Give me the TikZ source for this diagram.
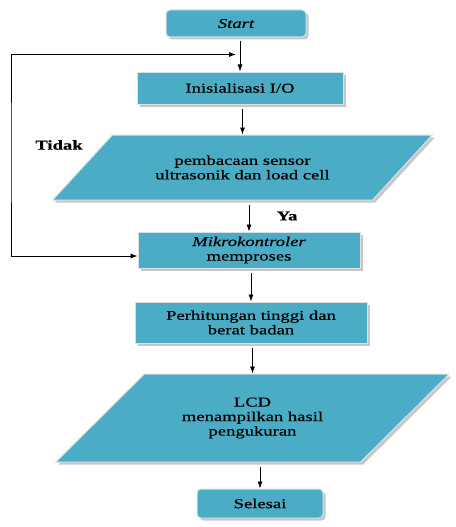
\documentclass[tikz,border=0pt]{standalone}
\usepackage{fontspec}
\setmainfont[FakeStretch=1.38,FakeBold=0.5]{Liberation Serif}
\usetikzlibrary{arrows.meta,positioning,shapes.geometric,shadows,calc}
\definecolor{flowcol}{RGB}{75,172,198}
\definecolor{rimcol}{RGB}{214,226,231}

\begin{document}
\begin{tikzpicture}[
  font=\fontsize{13.5}{14.5}\selectfont,
  box/.style={draw=rimcol,line width=1pt,fill=flowcol,align=center,inner sep=2pt,
    drop shadow={shadow xshift=2.5pt,shadow yshift=-2.5pt,fill=black!22,opacity=1}},
  term/.style={box,rounded corners=4pt},
  proc/.style={box},
  io/.style={box,trapezium,trapezium stretches=true},
  lbl/.style={font=\fontsize{13.5}{14.5}\selectfont\bfseries},
  arr/.style={-{Latex[length=7pt,width=5pt]},line width=0.8pt,shorten <=4pt},
  back/.style={{Latex[length=7pt,width=5pt]}-{Latex[length=7pt,width=5pt]},line width=0.8pt,shorten <=4pt}]

\useasboundingbox (0,0) rectangle (455pt,-527pt);

% main column
\node[term,minimum width=140pt,minimum height=27pt] (start) at (236pt,-23.5pt) {\itshape Start};
\node[proc,below=34pt of start,xshift=4pt,minimum width=206pt,minimum height=32pt] (init) {Inisialisasi I/O};
\node[io,below=30pt of init,xshift=2.5pt,trapezium left angle=34.4,trapezium right angle=145.6,
  minimum width=381pt,minimum height=65pt] (sensor) {pembacaan sensor\\ultrasonik dan load cell};
\node[proc,below=31pt of sensor,xshift=6.5pt,minimum width=222pt,minimum height=36pt] (mikro)
  {\textit{Mikrokontroler}\\memproses};
\node[proc,below=33pt of mikro,xshift=2pt,minimum width=232pt,minimum height=41pt] (hitung)
  {Perhitungan tinggi dan\\berat badan};
\node[io,below=30pt of hitung,xshift=1.5pt,trapezium left angle=37,trapezium right angle=143,
  minimum width=395pt,minimum height=88pt] (lcd) {LCD\\menampilkan hasil\\pengukuran};
\node[term,below=26pt of lcd,xshift=7.5pt,minimum width=126pt,minimum height=29pt] (selesai) {Selesai};

% labels
\node[lbl] (tidak) at (59pt,-145pt) {Tidak};

% arrows
\draw[arr] (init.north |- start.south) -- (init.north);
\draw[arr] (sensor.north |- init.south) -- (sensor.north);
\draw[arr] (mikro.north |- sensor.south) -- node[midway,right=24pt,lbl] (ya) {Ya} (mikro.north);
\draw[arr] (hitung.north |- mikro.south) -- (hitung.north);
\draw[arr] (lcd.north |- hitung.south) -- (lcd.north);
\draw[arr] (selesai.north |- lcd.south) -- (selesai.north);

% loop back
\coordinate (join) at ($(init.north |- start.south)!0.5!(init.north)$);
\coordinate (lft) at (11pt,-150pt);
\draw[back] (join) -| (lft) |- ([yshift=-6pt]mikro.west);
\end{tikzpicture}
\end{document}
